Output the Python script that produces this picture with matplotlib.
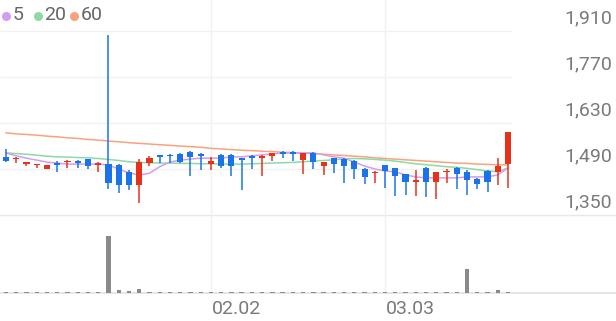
import matplotlib
matplotlib.use('Agg')
import matplotlib.pyplot as plt
from matplotlib.patches import Rectangle
from matplotlib.lines import Line2D

plt.rcParams['font.family'] = ['Roboto', 'DejaVu Sans']

# ---------------- data ----------------
opens = [1526, 1520, 1506, 1502, 1491, 1508, 1510, 1514, 1519, 1502,
         1505, 1502, 1481, 1441, 1508, 1533, 1534, 1536, 1542, 1536,
         1505, 1533, 1533, 1522, 1530, 1523, 1530, 1542, 1543, 1517,
         1539, 1499, 1523, 1520, 1514, 1490, 1478, 1502, 1492, 1475,
         1451, 1493, 1451, 1480, 1493, 1480, 1461, 1484, 1481, 1504]
highs = [1551, 1526, 1511, 1505, 1502, 1514, 1516, 1516, 1520, 1510,
         1898, 1505, 1487, 1520, 1530, 1533, 1536, 1539, 1544, 1538,
         1526, 1535, 1535, 1523, 1532, 1532, 1540, 1544, 1545, 1539,
         1541, 1510, 1525, 1522, 1516, 1492, 1485, 1503, 1493, 1476,
         1488, 1495, 1481, 1490, 1495, 1487, 1463, 1486, 1523, 1604]
lows = [1511, 1508, 1500, 1493, 1490, 1481, 1493, 1493, 1491, 1481,
        1429, 1417, 1426, 1387, 1499, 1508, 1508, 1508, 1469, 1487,
        1487, 1493, 1469, 1426, 1490, 1470, 1514, 1523, 1514, 1475,
        1490, 1472, 1478, 1447, 1460, 1444, 1447, 1432, 1408, 1411,
        1408, 1405, 1399, 1447, 1429, 1411, 1429, 1420, 1441, 1432]
closes = [1514, 1523, 1510, 1505, 1502, 1502, 1514, 1508, 1499, 1508,
          1447, 1441, 1441, 1511, 1525, 1526, 1530, 1511, 1526, 1530,
          1514, 1498, 1499, 1516, 1523, 1530, 1540, 1536, 1536, 1539,
          1511, 1510, 1505, 1499, 1490, 1466, 1482, 1484, 1469, 1451,
          1457, 1451, 1480, 1482, 1476, 1457, 1444, 1451, 1499, 1603]
volumes = [8, 8, 6, 6, 8, 6, 6, 6, 6, 8,
           570, 30, 20, 40, 8, 6, 6, 6, 6, 15,
           6, 8, 6, 6, 6, 6, 6, 6, 8, 10,
           6, 8, 6, 6, 6, 8, 15, 6, 6, 6,
           6, 6, 15, 6, 6, 240, 6, 6, 30, 15]
ma5 = [1539, 1530, 1523, 1517, 1511, 1508, 1505, 1505, 1505, 1505,
       1502, 1490, 1478, 1472, 1477, 1497, 1511, 1517, 1520, 1523,
       1523, 1523, 1527, 1527, 1530, 1533, 1536, 1539, 1539, 1539,
       1539, 1533, 1527, 1523, 1511, 1499, 1490, 1484, 1481, 1472,
       1466, 1463, 1463, 1463, 1463, 1466, 1466, 1466, 1472, 1493]
ma20 = [1539, 1537, 1535, 1532, 1529, 1527, 1526, 1525, 1524, 1522,
        1519, 1516, 1512, 1510, 1509, 1508, 1508, 1507, 1507, 1506,
        1506, 1505, 1505, 1505, 1506, 1507, 1508, 1509, 1510, 1512,
        1514, 1516, 1518, 1521, 1522, 1521, 1519, 1517, 1514, 1510,
        1506, 1503, 1500, 1497, 1495, 1492, 1488, 1484, 1482, 1493]
ma60 = [1600, 1597, 1595, 1593, 1590, 1588, 1585, 1583, 1580, 1578,
        1575, 1573, 1570, 1568, 1566, 1564, 1562, 1560, 1558, 1556,
        1553, 1551, 1549, 1547, 1546, 1544, 1543, 1541, 1540, 1538,
        1537, 1535, 1533, 1531, 1529, 1527, 1524, 1522, 1520, 1518,
        1516, 1514, 1512, 1510, 1508, 1507, 1505, 1504, 1503, 1502]
ma_labels = ['5', '20', '60']
tick_index = [20, 37]
tick_labels = ['02.02', '03.03']
price_ticks = [1350, 1490, 1630, 1770, 1910]

# ---------------- style ----------------
UP = '#e8311b'
DOWN = '#1a74e8'
MA_COLORS = ['#d49cf0', '#8fd9a4', '#f8a37d']
GRID = '#f1f1f1'
TXT = '#7a7a7a'

W, H = 616, 321
fig = plt.figure(figsize=(W / 100, H / 100), dpi=100)
fig.patch.set_facecolor('white')

x_left, x_right = -0.586, 59.54
grid_end = 49.4
ax = fig.add_axes([0, (H - 215) / H, 1, 215 / H])
axv = fig.add_axes([0, (H - 293) / H, 1, 78 / H])
for a in (ax, axv):
    a.set_xlim(x_left, x_right)
    a.axis('off')
ax.set_ylim(1350, 1350 + 215 * 3.0435)
axv.set_ylim(0, 780)

# grid
ax.hlines(price_ticks[1:], x_left, grid_end, color=GRID, lw=1.0, zorder=0)
ax.axhline(price_ticks[0], color='#e8e8e8', lw=1.0, zorder=0, clip_on=False)
for t in tick_index:
    ax.axvline(t, color=GRID, lw=1.0, zorder=0)
    axv.axvline(t, color=GRID, lw=1.0, zorder=0)

# candles
n = len(closes)
xs = list(range(n))
bw = 0.6
for i in xs:
    o, h, l, c = opens[i], highs[i], lows[i], closes[i]
    col = UP if c >= o else DOWN
    ax.plot([i, i], [l, h], color=col, lw=1.1, solid_capstyle='butt', zorder=3)
    lo, hi = min(o, c), max(o, c)
    ax.add_patch(Rectangle((i - bw / 2, lo), bw, max(hi - lo, 2.5),
                           facecolor=col, edgecolor='none', zorder=4))

# moving averages
for ma, colr in zip([ma60, ma20, ma5], [MA_COLORS[2], MA_COLORS[1], MA_COLORS[0]]):
    ax.plot(xs, ma, color=colr, lw=1.1, zorder=2)

# volume
axv.bar(xs, volumes, width=0.42, color='#8a8a8a', zorder=3)
axv.axhline(0, color='#e2e2e2', lw=1.2, zorder=1, clip_on=False)

# price labels
for v in price_ticks:
    ax.annotate(f'{v:,}', xy=(1, v), xycoords=('axes fraction', 'data'),
                xytext=(-3, 9.4), textcoords='offset points',
                ha='right', va='center', fontsize=14, color=TXT)

# x labels
for t, lab in zip(tick_index, tick_labels):
    axv.annotate(lab, xy=(t, 0), xycoords=('data', 'axes fraction'),
                 xytext=(0.5, -11.5), textcoords='offset points',
                 ha='left', va='center', fontsize=14, color=TXT)

# legend
leg_x = [6, 38, 74]
for k, (lab, colr) in enumerate(zip(ma_labels, MA_COLORS)):
    cx = leg_x[k] / W
    cy = 1 - 15.5 / H
    fig.add_artist(Line2D([cx], [cy], marker='o', ms=6.5, color=colr,
                          markeredgewidth=0, transform=fig.transFigure))
    fig.text((leg_x[k] + 6.5) / W, cy, lab, ha='left', va='center',
             fontsize=14, color='#666666')

fig.savefig('out.png', dpi=100, facecolor='white')
